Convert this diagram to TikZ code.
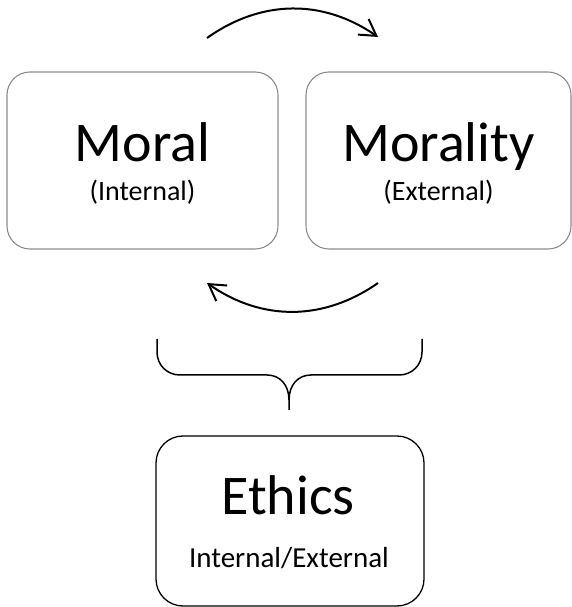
\documentclass[tikz,border=0pt]{standalone}
\usepackage{fontspec}
\setmainfont{Carlito}
\usetikzlibrary{arrows.meta}
\begin{document}
\begin{tikzpicture}[x=1pt,y=1pt,
  softbox/.style={draw=black!45, line width=1.1pt, rounded corners=23pt, minimum width=#1, minimum height=177pt, inner sep=0pt},
  mainbox/.style={draw=black, line width=1.3pt, rounded corners=27pt, minimum width=268pt, minimum height=170pt, inner sep=0pt},
  title/.style={anchor=base, font=\fontsize{56}{60}\selectfont, inner sep=0pt},
  subtitle/.style={anchor=base, font=\fontsize{28}{32}\selectfont, inner sep=0pt},
  flow/.style={line width=2pt, -{Straight Barb[length=16pt,width=19pt,line width=2pt]}},
  bracepath/.style={line width=1.5pt}]
  \useasboundingbox (0,0) rectangle (571,607);

  % the two upper boxes
  \node[softbox=271pt] (moral) at (142.5,446.5) {};
  \node[softbox=265pt] (morality) at (438.5,446.5) {};
  \node[title] (moral-t) at (142.5,445) {Moral};
  \node[subtitle] (moral-s) at (142.5,406) {(Internal)};
  \node[title] (morality-t) at (438.5,445) {Morality};
  \node[subtitle] (morality-s) at (438.5,406) {(External)};

  % the lower box
  \node[mainbox] (ethics) at (290,86) {};
  \node[title] (ethics-t) at (288,92) {Ethics};
  \node[subtitle, font=\fontsize{29}{32}\selectfont] (ethics-s) at (289,39) {Internal/External};

  % the cycle between the upper boxes
  \coordinate (top-a) at (207,569);
  \coordinate (top-b) at (378,570);
  \coordinate (bot-a) at (378,324);
  \coordinate (bot-b) at (207,324);
  \draw[flow] (top-a) to[bend left=35] (top-b);
  \draw[flow] (bot-a) to[bend left=35] (bot-b);

  % the brace joining both into the lower box
  \coordinate (br-l) at (157,268);
  \coordinate (br-r) at (422,268);
  \coordinate (br-tip) at (289,197);
  \draw[bracepath] (br-l) -- (157,255) .. controls (157,242) and (167,232) .. (180,232)
      -- (267,232) .. controls (280,232) and (289,222) .. (289,207) -- (br-tip);
  \draw[bracepath] (br-r) -- (422,255) .. controls (422,242) and (412,232) .. (399,232)
      -- (311,232) .. controls (298,232) and (289,222) .. (289,207);
\end{tikzpicture}
\end{document}
